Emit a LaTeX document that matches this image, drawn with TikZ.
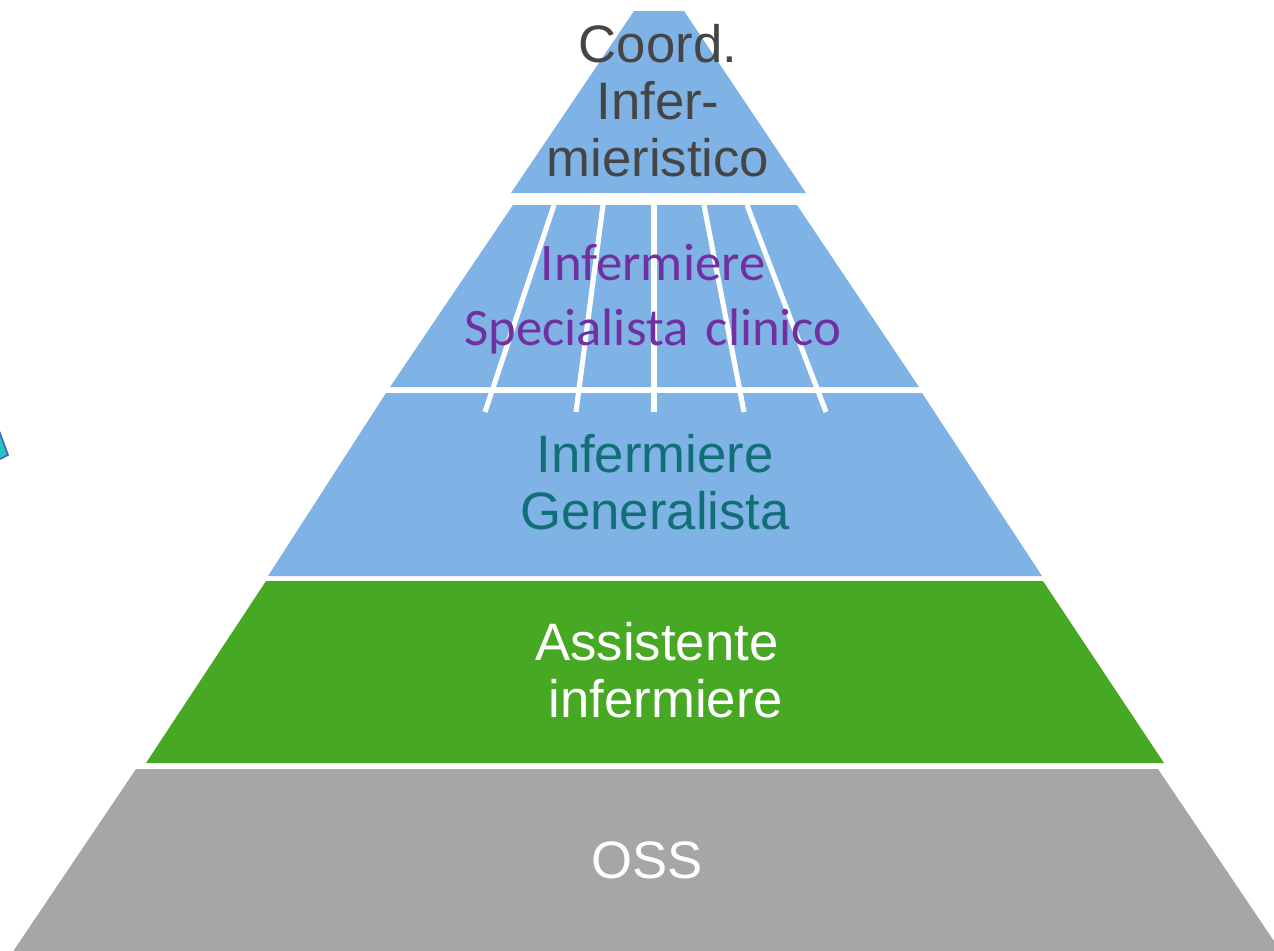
\documentclass[tikz,border=0pt]{standalone}
\usepackage{fontspec}
\setmainfont{Liberation Sans}
\newfontfamily\carlito{Carlito}
\definecolor{pyrblue}{HTML}{7FB2E5}
\definecolor{pyrgreen}{HTML}{46A823}
\definecolor{pyrgray}{HTML}{A6A6A6}
\definecolor{txtgray}{HTML}{454545}
\definecolor{txtpurple}{HTML}{7030A0}
\definecolor{txtteal}{HTML}{126F78}
\definecolor{artcyan}{HTML}{22C8C0}
\definecolor{artblue}{HTML}{4466CC}
\tikzset{
  layer/.style={draw=none},
  spoke/.style={draw=white, line width=2.9pt},
  lbl/.style={anchor=base, inner sep=0pt, align=center, text width=12cm,
    font=\fontsize{30}{32.6}\selectfont},
  lblc/.style={anchor=base, inner sep=0pt, align=center, text width=12cm,
    font=\carlito\fontsize{30}{37}\selectfont}
}
\begin{document}
\begin{tikzpicture}[x=0.02cm,y=-0.02cm]
\useasboundingbox (0,0) rectangle (1274,950);
% off-page artifact at left
\filldraw[fill=artcyan, draw=artblue, line width=1pt] (-2,428) -- (8,455) -- (-2,460) -- cycle;
% layers
\fill[layer, pyrblue] (634,11) -- (684,11) -- (806,193) -- (511,193) -- cycle;
\fill[layer, pyrblue] (513,205) -- (797,205) -- (919,387) -- (390,387) -- cycle;
\fill[layer, pyrblue] (386,393) -- (922,393) -- (1042,576) -- (268,576) -- cycle;
\fill[layer, pyrgreen] (266,581) -- (1043,581) -- (1164,763) -- (146,763) -- cycle;
\fill[layer, pyrgray] (136,769) -- (1158,769) -- (1282,953) -- (12,953) -- cycle;
% spokes
\coordinate (s1a) at (554,205); \coordinate (s1b) at (485,412);
\coordinate (s2a) at (603,205); \coordinate (s2b) at (576,412);
\coordinate (s3a) at (654,205); \coordinate (s3b) at (654,412);
\coordinate (s4a) at (704,205); \coordinate (s4b) at (744,412);
\coordinate (s5a) at (747,205); \coordinate (s5b) at (826,412);
\foreach \i in {1,...,5} { \draw[spoke] (s\i a) -- (s\i b); }
% labels
\node[lbl, text=txtgray] (coord) at (658,62) {Coord.\\Infer-\\mieristico};
\node[lblc, text=txtpurple] (spec) at (653,280) {Infermiere\\Specialista clinico};
\node[lbl, text=txtteal] (gen) at (655,472) {Infermiere\\Generalista};
\node[lbl, text=white] (ass) at (657,660) {Assistente\\\ infermiere};
\node[lbl, text=white] (oss) at (647,878) {OSS};
\end{tikzpicture}
\end{document}
